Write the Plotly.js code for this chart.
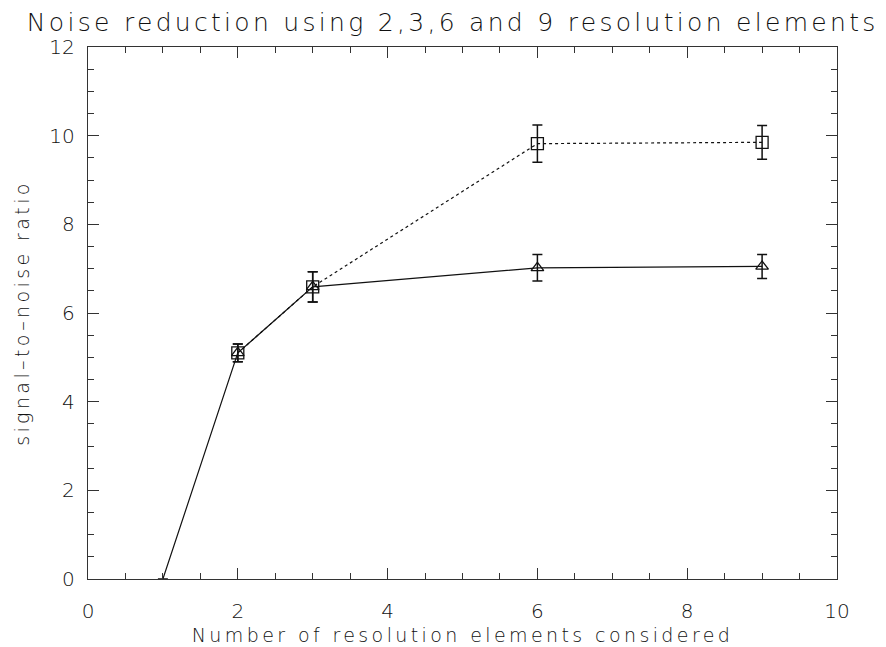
<!DOCTYPE html>
<html>
<head>
<meta charset="utf-8">
<script src="https://cdn.plot.ly/plotly-3.0.1.min.js"></script>
<style>
html,body{margin:0;padding:0;background:#fff;}
#chart{width:886px;height:647px;}
#chart .gtitle{letter-spacing:3.3px;}
#chart .xtitle{letter-spacing:3.4px;}
#chart .ytitle{letter-spacing:3.4px;}
</style>
</head>
<body>
<div id="chart"></div>
<script>
// Data
const triX   = [1, 2, 3, 6, 9];
const triY   = [0, 5.1, 6.59, 7.02, 7.05];
const triErr = [null, 0.2, 0.34, 0.3, 0.27];

const sqX   = [2, 3, 6, 9];
const sqY   = [5.1, 6.59, 9.82, 9.85];
const sqErr = [0.2, 0.34, 0.42, 0.38];

const xTicks = [0, 2, 4, 6, 8, 10];
const yTicks = [0, 2, 4, 6, 8, 10, 12];

const titleText = 'Noise reduction using 2,3,6 and 9 resolution elements';
const xTitle = 'Number of resolution elements considered';
const yTitle = 'signal\u2013to\u2013noise ratio';

const FONT = 'DejaVu Sans, sans-serif';
const INK = '#111';

const traces = [
  {
    x: sqX, y: sqY, type: 'scatter', mode: 'lines+markers',
    line: {color: INK, width: 1.2, dash: 'dot'},
    marker: {symbol: 'square-open', size: 12, color: INK, line: {width: 1.3, color: INK}},
    error_y: {type: 'data', array: sqErr, visible: true, color: INK, thickness: 1.5, width: 5},
    showlegend: false, cliponaxis: true
  },
  {
    x: triX, y: triY, type: 'scatter', mode: 'lines+markers',
    line: {color: INK, width: 1.2},
    marker: {symbol: 'triangle-up-open', size: 11, opacity: triX.map((v, i) => i === 0 ? 0 : 1), color: INK, line: {width: 1.3, color: INK}},
    error_y: {type: 'data', array: triErr, visible: true, color: INK, thickness: 1.5, width: 5},
    showlegend: false, cliponaxis: true
  }
];

const axisCommon = {
  showgrid: false, zeroline: false, showline: true, linecolor: '#333', linewidth: 1.2,
  mirror: 'ticks', ticks: 'inside', ticklen: 11, tickwidth: 1, tickcolor: '#333',
  tickfont: {family: FONT, size: 20, color: INK, weight: 200},
  tickmode: 'array',
  minor: {dtick: 0.5, ticks: 'inside', ticklen: 6, tickwidth: 1, tickcolor: '#333', showgrid: false}
};

const layout = {
  width: 886, height: 647,
  paper_bgcolor: '#fff', plot_bgcolor: '#fff',
  margin: {l: 88, r: 49, t: 47, b: 68},
  title: {
    text: titleText, x: 0.511, xanchor: 'center', y: 0.966, yanchor: 'middle',
    font: {family: FONT, size: 25, color: INK, weight: 200}
  },
  xaxis: Object.assign({}, axisCommon, {
    range: [0, 10], tickvals: xTicks, ticktext: xTicks.map(String),
    ticklabelstandoff: 14,
    title: {text: xTitle, standoff: 6, font: {family: FONT, size: 19, color: INK, weight: 200}}
  }),
  yaxis: Object.assign({}, axisCommon, {
    range: [0, 12], tickvals: yTicks, ticktext: yTicks.map(String),
    ticklabelstandoff: 8,
    title: {text: yTitle, standoff: 14, font: {family: FONT, size: 19, color: INK, weight: 200}}
  })
};

Plotly.newPlot('chart', traces, layout, {staticPlot: true, displayModeBar: false});
</script>
</body>
</html>
